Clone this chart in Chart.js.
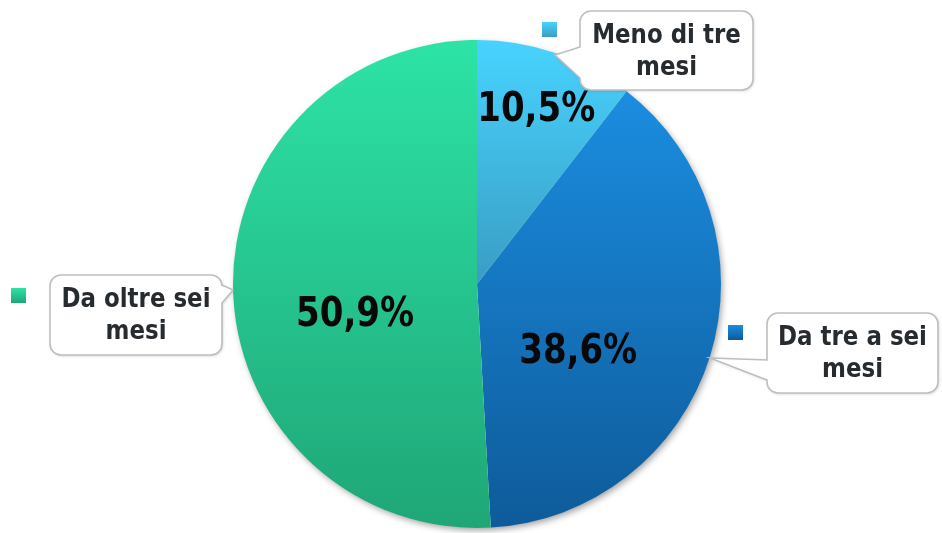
<!DOCTYPE html>
<html>
<head>
<meta charset="utf-8">
<script src="https://cdn.jsdelivr.net/npm/chart.js@4.4.1/dist/chart.umd.min.js"></script>
<style>
  html, body { margin: 0; background: #fff; }
  #wrap { width: 942px; height: 533px; }
</style>
</head>
<body>
<div id="wrap"><canvas id="myChart"></canvas></div>
<script>
// dati
const categories = ['Meno di tre mesi', 'Da tre a sei mesi', 'Da oltre sei mesi'];
const values = [10.5, 38.6, 50.9];
const valueLabels = ['10,5%', '38,6%', '50,9%'];

const topColors = ['#47D3FE', '#1B8DE0', '#2DE3A6'];
const bottomColors = ['#3A9DC4', '#0E5B9A', '#1FA677'];

// y range of a slice, for its own gradient
function arcYRange(el) {
  const a0 = el.startAngle, a1 = el.endAngle, r = el.outerRadius;
  let ys = [el.y, el.y + r * Math.sin(a0), el.y + r * Math.sin(a1)];
  [Math.PI / 2, -Math.PI / 2, 3 * Math.PI / 2].forEach(a => {
    if (a > a0 && a < a1) ys.push(el.y + r * Math.sin(a));
  });
  return [Math.min(...ys), Math.max(...ys)];
}

const pieStyle = {
  id: 'pieStyle',
  beforeDatasetsDraw(chart) {
    const ctx = chart.ctx;
    const arcs = chart.getDatasetMeta(0).data;
    const a = arcs[0];
    // shadow behind the whole pie
    ctx.save();
    ctx.shadowColor = 'rgba(0,0,0,0.4)';
    ctx.shadowBlur = 7;
    ctx.shadowOffsetX = 2;
    ctx.shadowOffsetY = 3;
    ctx.fillStyle = '#fff';
    ctx.beginPath();
    ctx.arc(a.x, a.y, a.outerRadius - 1, 0, Math.PI * 2);
    ctx.fill();
    ctx.restore();
    arcs.forEach((el, i) => {
      const [y0, y1] = arcYRange(el);
      const g = ctx.createLinearGradient(0, y0, 0, y1);
      g.addColorStop(0, topColors[i]);
      g.addColorStop(1, bottomColors[i]);
      el.options.backgroundColor = g;
    });
  }
};

const valueText = {
  id: 'valueText',
  afterDatasetsDraw(chart, args, opts) {
    const ctx = chart.ctx;
    chart.getDatasetMeta(0).data.forEach((el, i) => {
      const [t, f] = opts.place[i];
      const ang = el.startAngle + t * (el.endAngle - el.startAngle);
      const x = el.x + f * el.outerRadius * Math.cos(ang);
      const y = el.y + f * el.outerRadius * Math.sin(ang);
      ctx.save();
      ctx.translate(x, y);
      ctx.scale(0.85, 1);
      ctx.font = 'bold 40px "DejaVu Sans"';
      ctx.fillStyle = '#080808';
      ctx.textAlign = 'center';
      ctx.textBaseline = 'middle';
      ctx.fillText(valueLabels[i], 0, 0);
      ctx.restore();
    });
  }
};

function calloutPath(ctx, b) {
  const r = 11, x = b.x, y = b.y, w = b.w, h = b.h;
  ctx.beginPath();
  ctx.moveTo(x + r, y);
  ctx.lineTo(x + w - r, y);
  ctx.arcTo(x + w, y, x + w, y + r, r);
  if (b.side === 'right') {
    ctx.lineTo(x + w, b.base[0]);
    ctx.lineTo(b.tip[0], b.tip[1]);
    ctx.lineTo(x + w, b.base[1]);
  }
  ctx.lineTo(x + w, y + h - r);
  ctx.arcTo(x + w, y + h, x + w - r, y + h, r);
  ctx.lineTo(x + r, y + h);
  ctx.arcTo(x, y + h, x, y + h - r, r);
  if (b.side === 'left') {
    ctx.lineTo(x, b.base[1]);
    ctx.lineTo(b.tip[0], b.tip[1]);
    ctx.lineTo(x, b.base[0]);
  }
  ctx.lineTo(x, y + r);
  ctx.arcTo(x, y, x + r, y, r);
  ctx.closePath();
}

const callouts = {
  id: 'callouts',
  afterDraw(chart, args, opts) {
    const ctx = chart.ctx;
    opts.boxes.forEach((b, i) => {
      ctx.save();
      calloutPath(ctx, b);
      ctx.shadowColor = 'rgba(0,0,0,0.18)';
      ctx.shadowBlur = 3;
      ctx.shadowOffsetX = 1;
      ctx.shadowOffsetY = 1;
      ctx.fillStyle = '#fff';
      ctx.fill();
      ctx.shadowColor = 'transparent';
      ctx.strokeStyle = '#BEBEBE';
      ctx.lineWidth = 1.6;
      ctx.stroke();
      ctx.restore();

      // marker
      const [mx, my] = b.marker;
      const g = ctx.createLinearGradient(0, my, 0, my + 15);
      g.addColorStop(0, topColors[i]);
      g.addColorStop(1, bottomColors[i]);
      ctx.fillStyle = g;
      ctx.fillRect(mx, my, 15, 15);

      // text
      const name = categories[i];
      const cut = name.lastIndexOf(' ');
      const lines = [name.slice(0, cut), name.slice(cut + 1)];
      const cx = b.x + b.w / 2, cy = b.y + b.h / 2 + 1;
      lines.forEach((ln, k) => {
        ctx.save();
        ctx.translate(cx, cy + (k === 0 ? -16 : 16));
        ctx.scale(0.85, 1);
        ctx.font = 'bold 27px "DejaVu Sans"';
        ctx.fillStyle = '#262B2F';
        ctx.textAlign = 'center';
        ctx.textBaseline = 'middle';
        ctx.fillText(ln, 0, 0);
        ctx.restore();
      });
    });
  }
};

new Chart(document.getElementById('myChart'), {
  type: 'pie',
  data: {
    labels: categories,
    datasets: [{
      data: values,
      backgroundColor: topColors,
      borderWidth: 0
    }]
  },
  options: {
    responsive: true,
    maintainAspectRatio: false,
    animation: false,
    layout: { padding: { left: 233, right: 221, top: 40, bottom: 5 } },
    plugins: {
      legend: { display: false },
      tooltip: { enabled: false },
      valueText: { place: [[0.5, 0.75], [0.62, 0.5], [0.43, 0.516]] },
      callouts: {
        boxes: [
          { x: 580, y: 11, w: 173, h: 79, side: 'left', base: [47, 78], tip: [555, 55], marker: [542, 22] },
          { x: 767, y: 313, w: 171, h: 80, side: 'left', base: [360, 380], tip: [710, 358], marker: [728, 325] },
          { x: 50, y: 275, w: 172, h: 80, side: 'right', base: [285, 303], tip: [233, 290], marker: [11, 288] }
        ]
      }
    }
  },
  plugins: [pieStyle, valueText, callouts]
});
</script>
</body>
</html>
